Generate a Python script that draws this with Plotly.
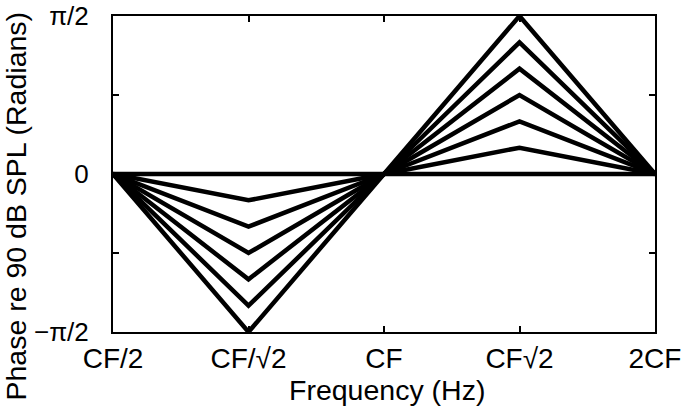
import numpy as np
import plotly.graph_objects as go

# Frequencies relative to CF (log-spaced octave points)
freq_rel = [0.5, 2 ** -0.5, 1.0, 2 ** 0.5, 2.0]
x_tick_labels = ["CF/2", "CF/\u221a2", "CF", "CF\u221a2", "2CF"]

# Phase amplitude at the extrema, as fractions of pi/2 (one per curve)
amp_fractions = [0, 1/6, 2/6, 3/6, 4/6, 5/6, 1.0]
# shape of each curve at the five frequency points
shape = [0, -1, 0, 1, 0]

y_tick_vals = [-np.pi / 2, -np.pi / 4, 0, np.pi / 4, np.pi / 2]
y_tick_labels = ["\u2212\u03c0/2", "", "0", "", "\u03c0/2"]

x_title = "Frequency (Hz)"
y_title = "Phase re 90 dB SPL (Radians)"

fig = go.Figure()
for a in amp_fractions:
    fig.add_trace(go.Scatter(
        x=freq_rel,
        y=[s * a * np.pi / 2 for s in shape],
        mode="lines",
        line=dict(color="black", width=4.5),
        showlegend=False,
        hoverinfo="skip",
    ))

family = "Liberation Sans, Arial, sans-serif"
font = dict(family=family, size=28, color="black")
yfont = dict(family=family, size=26, color="black")
title_font = dict(family=family, size=28.5, color="black")

fig.update_layout(
    width=685, height=413,
    margin=dict(l=113, r=30, t=16, b=81),
    paper_bgcolor="white", plot_bgcolor="white",
    font=font,
)
fig.update_xaxes(
    type="log",
    range=[np.log10(0.5), np.log10(2.0)],
    tickvals=freq_rel, ticktext=x_tick_labels,
    ticks="inside", ticklen=6, tickwidth=1.5, tickcolor="black",
    showline=True, linecolor="black", linewidth=2, mirror="ticks",
    showgrid=False, zeroline=False, automargin=False,
    tickfont=font,
)
fig.update_yaxes(
    range=[-np.pi / 2, np.pi / 2],
    tickvals=y_tick_vals, ticktext=y_tick_labels,
    ticks="inside", ticklen=6, tickwidth=1.5, tickcolor="black",
    showline=True, linecolor="black", linewidth=2, mirror="ticks",
    showgrid=False, zeroline=False, automargin=False,
    tickfont=yfont,
    ticklabelstandoff=17,
)
fig.add_annotation(text=x_title, xref="paper", yref="paper", x=0.506, y=-0.185,
                   xanchor="center", yanchor="middle", showarrow=False, font=title_font)
fig.add_annotation(text=y_title, xref="paper", yref="paper", x=-0.179, y=0.40,
                   xanchor="center", yanchor="middle", textangle=-90,
                   showarrow=False, font=title_font)

fig.write_html("out.html", config={"displayModeBar": False},
               post_script="document.body.style.margin='0';")
